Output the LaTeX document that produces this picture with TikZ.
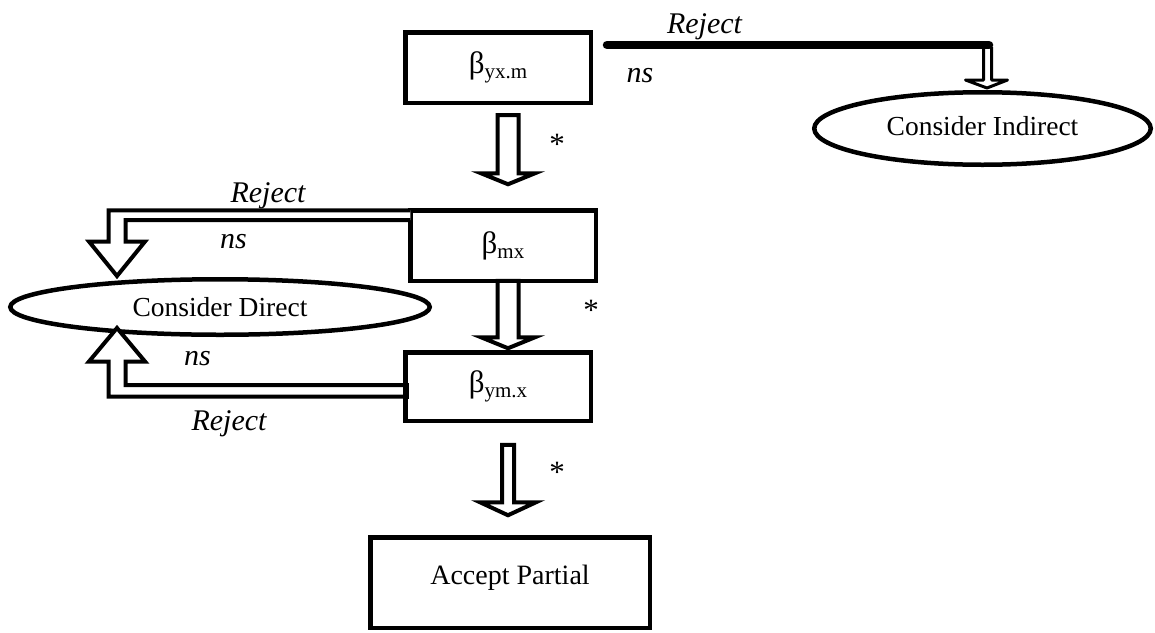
\documentclass[tikz,border=0pt]{standalone}
\usepackage{fontspec}
\setmainfont{Liberation Serif}
\usetikzlibrary{shapes.geometric,calc}
\newcommand{\btxt}[1]{{\fontsize{31}{36}\selectfont β\raisebox{-5pt}{\fontsize{21}{24}\selectfont #1}}}
\newcommand{\hdown}[5]{%
  \draw[blk] let \p1=(#1), \p2=(#2) in
    (\x2-#3,\y1) -- (\x2+#3,\y1) -- (\x2+#3,\y2+#5) -- (\x2+#4,\y2+#5) --
    (\x2,\y2) -- (\x2-#4,\y2+#5) -- (\x2-#3,\y2+#5) -- cycle;}
\begin{document}
\begin{tikzpicture}[x=1pt,y=-1pt,
  box/.style={draw, rectangle, line width=4.5pt, inner sep=0pt, outer sep=0pt},
  oval/.style={draw, ellipse, line width=4.5pt, inner sep=0pt, outer sep=0pt,
    font=\fontsize{27.5}{32}\selectfont},
  blk/.style={draw, line width=4pt, fill=white, line join=miter},
  lbl/.style={font=\fontsize{30}{36}\selectfont\itshape, inner sep=0pt, anchor=base},
  star/.style={font=\fontsize{31}{36}\selectfont, inner sep=0pt, anchor=base},
  txt/.style={font=\fontsize{28}{32}\selectfont}]
\useasboundingbox (0,0) rectangle (1155,632);

% nodes
\node[box, minimum width=185.5pt, minimum height=70.5pt] (b1) at (498,67.5) {\btxt{yx.m}};
\node[box, minimum width=185.5pt, minimum height=70.5pt] (b2) at (503,245.5) {\btxt{mx}};
\node[box, minimum width=185.5pt, minimum height=68.5pt] (b3) at (498,386.5) {\btxt{ym.x}};
\node[box, txt, minimum width=279.5pt, minimum height=90.5pt] (ap) at (510,582.5) {\raisebox{15pt}{Accept Partial}};
\node[oval, minimum width=336.5pt, minimum height=72.5pt] (ci) at (982.5,128.5) {\raisebox{5pt}{Consider Indirect}};
\node[oval, minimum width=419.5pt, minimum height=55.5pt] (cd) at (220,307) {Consider Direct};

% significant paths (block arrows)
\coordinate (a1s) at ($(b1.south)+(10,12.25)$);
\coordinate (a1t) at ($(b2.north)+(5,-26)$);
\hdown{a1s}{a1t}{10.5pt}{27pt}{11pt}
\coordinate (a2s) at ($(b2.south)+(5,0)$);
\coordinate (a2t) at ($(b3.north)+(10,-4)$);
\hdown{a2s}{a2t}{10.5pt}{27pt}{11pt}
\coordinate (a3s) at ($(b3.south)+(10,24)$);
\coordinate (a3t) at ($(ap.north)+(-2,-22)$);
\hdown{a3s}{a3t}{6pt}{28pt}{13pt}

% non-significant: b1 -> Consider Indirect
\coordinate (r0) at ($(b1.east)+(16.25,-22.5)$);
\coordinate (rt) at ($(ci.north)+(4.5,-4.25)$);
\draw[line width=3pt, fill=white, line join=round]
  ($(rt)+(-3.5,-41)$) -- ($(rt)+(-3.5,-8)$) -- ($(rt)+(-21.5,-8)$) -- (rt) --
  ($(rt)+(20.5,-8)$) -- ($(rt)+(4.5,-8)$) -- ($(rt)+(4.5,-41)$);
\draw[line width=8.5pt, line cap=round] (r0) -- ($(rt |- r0)+(2,0)$);

% non-significant: b2 -> Consider Direct
\draw[blk] (b2.north west) -- (108.5,210.25) -- (108.5,241.5) -- (89,241.5) --
  ($(cd.north)+(-103,-3.25)$) -- (145,241.5) -- (125.5,241.5) -- (125.5,220) --
  ($(b2.north west)+(0,9.75)$);
% non-significant: b3 -> Consider Direct
\draw[blk] ($(b3.west)+(0,10)$) -- (108.5,396.5) -- (108.5,361.5) -- (89,361.5) --
  ($(cd.south)+(-103,-6.75)$) -- (145,361.5) -- (125.5,361.5) -- (125.5,385) --
  ($(b3.west)+(0,-1.5)$);
\draw[line width=6pt] ($(b3.west)+(1,-3.5)$) -- ($(b3.west)+(1,12.5)$);

% labels
\node[lbl] (l1) at (704.5,33) {Reject};
\node[lbl] (l2) at (640,82) {ns};
\node[lbl] (l3) at (268,202) {Reject};
\node[lbl] (l4) at (233.5,248) {ns};
\node[lbl] (l5) at (197.5,365) {ns};
\node[lbl] (l6) at (229,430) {Reject};
\node[star] (s1) at (557,154) {*};
\node[star] (s2) at (591,320) {*};
\node[star] (s3) at (557,482) {*};
\end{tikzpicture}
\end{document}
